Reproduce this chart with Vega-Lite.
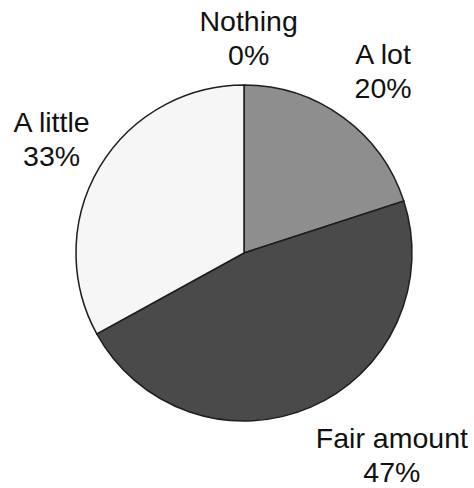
{
  "$schema": "https://vega.github.io/schema/vega-lite/v6.json",
  "width": 474,
  "height": 488,
  "autosize": {"type": "none"},
  "padding": {"left": 7, "top": 9, "right": 0, "bottom": 0},
  "background": "white",
  "view": {"stroke": null},
  "config": {
    "text": {"font": "Liberation Sans", "fontSize": 28.5, "lineBreak": "\n", "lineHeight": 34, "align": "center", "baseline": "middle", "color": "#111111"}
  },
  "data": {
    "values": [
      {"order": 0, "category": "Nothing", "pct": 0},
      {"order": 1, "category": "A lot", "pct": 20},
      {"order": 2, "category": "Fair amount", "pct": 47},
      {"order": 3, "category": "A little", "pct": 33}
    ]
  },
  "transform": [
    {"stack": "pct", "groupby": [], "sort": [{"field": "order", "order": "ascending"}], "as": ["p0", "p1"]},
    {"calculate": "(datum.p0 + datum.p1) / 2", "as": "pmid"},
    {"calculate": "datum.category + '\\n' + datum.pct + '%'", "as": "label"}
  ],
  "layer": [
    {
      "mark": {"type": "arc", "outerRadius": 168, "stroke": "#1e1e1e", "strokeWidth": 1.5},
      "encoding": {
        "theta": {"field": "p0", "type": "quantitative", "scale": {"domain": [0, 100]}},
        "theta2": {"field": "p1"},
        "color": {
          "field": "category",
          "type": "nominal",
          "scale": {
            "domain": ["Nothing", "A lot", "Fair amount", "A little"],
            "range": ["#ffffff", "#8e8e8e", "#4a4a4a", "#f6f6f6"]
          },
          "legend": null
        }
      }
    },
    {
      "transform": [{"filter": "datum.category == 'Nothing'"}],
      "mark": {"type": "text", "radius": 231, "thetaOffset": 0.02},
      "encoding": {
        "theta": {"field": "pmid", "type": "quantitative", "scale": {"domain": [0, 100]}},
        "text": {"field": "label"}
      }
    },
    {
      "transform": [{"filter": "datum.category == 'A lot'"}],
      "mark": {"type": "text", "radius": 242, "thetaOffset": -0.016},
      "encoding": {
        "theta": {"field": "pmid", "type": "quantitative", "scale": {"domain": [0, 100]}},
        "text": {"field": "label"}
      }
    },
    {
      "transform": [{"filter": "datum.category == 'A little'"}],
      "mark": {"type": "text", "radius": 232, "thetaOffset": 0.059},
      "encoding": {
        "theta": {"field": "pmid", "type": "quantitative", "scale": {"domain": [0, 100]}},
        "text": {"field": "label"}
      }
    },
    {
      "transform": [{"filter": "datum.category == 'Fair amount'"}],
      "mark": {"type": "text", "radius": 238, "thetaOffset": -0.262},
      "encoding": {
        "theta": {"field": "pmid", "type": "quantitative", "scale": {"domain": [0, 100]}},
        "text": {"field": "label"}
      }
    }
  ]
}
